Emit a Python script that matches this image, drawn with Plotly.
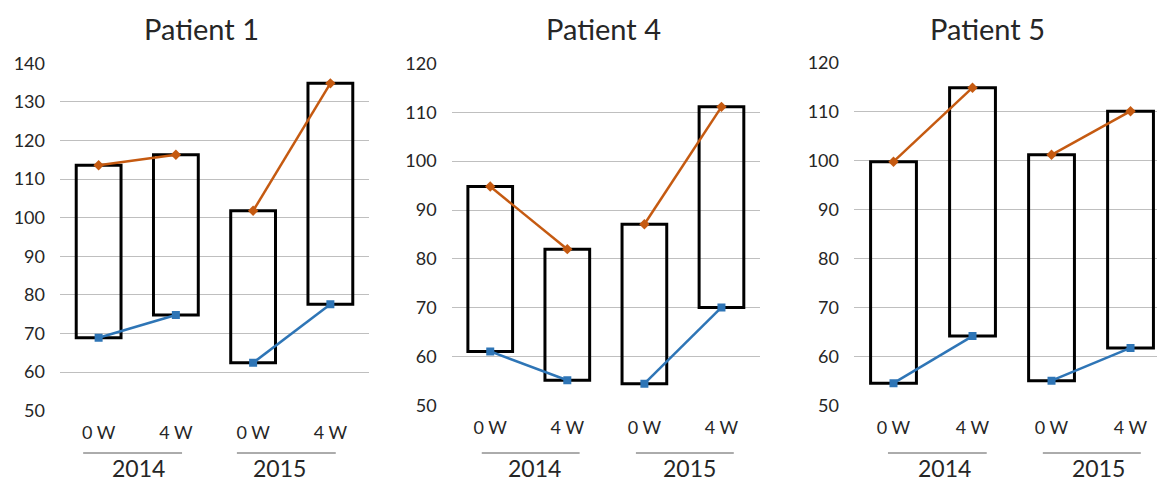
import plotly.graph_objects as go

# Visit labels within each year
visits = ["0 W", "4 W", "0 W", "4 W"]
years = ["2014", "2015"]

# Upper (orange) and lower (blue) readings per patient
p1_upper = [113.6, 116.3, 101.8, 134.8]
p1_lower = [68.9, 74.8, 62.4, 77.6]
p4_upper = [94.8, 82.0, 87.1, 111.1]
p4_lower = [61.1, 55.2, 54.5, 70.1]
p5_upper = [99.8, 114.9, 101.2, 110.1]
p5_lower = [54.6, 64.2, 55.1, 61.8]

W, H = 1157, 481
ORANGE = "#C55A11"
BLUE = "#2E75B6"
GRID = "#BFBFBF"
TEXT = "#262626"
FONT = "Lato"


def px_x(v):
    return v / W


def px_y(v):
    return (H - v) / H


panels = [
    dict(title="Patient 1", upper=p1_upper, lower=p1_lower,
         xdom=(60, 369), ydom=(410.7, 63.3), yrange=(50, 140),
         xrange=(-0.5, 3.5), title_x=201,
         group_lines=[(-0.2, 1.08), (1.79, 3.07)], year_x=[0.51, 2.34]),
    dict(title="Patient 4", upper=p4_upper, lower=p4_lower,
         xdom=(451.7, 760), ydom=(405.7, 63.3), yrange=(50, 120),
         xrange=(-0.5, 3.5), title_x=603,
         group_lines=[(-0.11, 1.16), (1.89, 3.16)], year_x=[0.58, 2.58]),
    dict(title="Patient 5", upper=p5_upper, lower=p5_lower,
         xdom=(854, 1157), ydom=(405.7, 62.7), yrange=(50, 120),
         xrange=(-0.5, 3.335), title_x=987,
         group_lines=[(-0.07, 1.18), (1.89, 3.13)], year_x=[0.64, 2.59]),
]

fig = go.Figure()
annotations = []
shapes = []
xs = list(range(len(visits)))

for i, p in enumerate(panels, start=1):
    xa = "x" if i == 1 else f"x{i}"
    ya = "y" if i == 1 else f"y{i}"

    # Floating boxes spanning lower -> upper reading
    fig.add_trace(go.Bar(
        x=xs,
        y=[u - l for u, l in zip(p["upper"], p["lower"])],
        base=p["lower"],
        width=0.58,
        marker=dict(color="rgba(255,255,255,0)",
                    line=dict(color="black", width=3)),
        xaxis=xa, yaxis=ya, showlegend=False, hoverinfo="skip",
    ))
    for seg in (slice(0, 2), slice(2, 4)):
        fig.add_trace(go.Scatter(
            x=xs[seg], y=p["upper"][seg], mode="lines+markers",
            line=dict(color=ORANGE, width=2.5),
            marker=dict(symbol="diamond", size=8, color=ORANGE),
            xaxis=xa, yaxis=ya, showlegend=False,
        ))
        fig.add_trace(go.Scatter(
            x=xs[seg], y=p["lower"][seg], mode="lines+markers",
            line=dict(color=BLUE, width=2.5),
            marker=dict(symbol="square", size=8, color=BLUE),
            xaxis=xa, yaxis=ya, showlegend=False,
        ))

    x0, x1 = p["xdom"]
    yb, yt = p["ydom"]
    fig.update_layout(**{
        ("xaxis" if i == 1 else f"xaxis{i}"): dict(
            domain=[px_x(x0), px_x(x1)], range=list(p["xrange"]),
            anchor=ya, tickvals=xs, ticktext=visits,
            showgrid=False, zeroline=False, showline=False, ticks="",
            ticklabelstandoff=9, automargin=False,
            tickfont=dict(family=FONT, size=18, color=TEXT),
            fixedrange=True,
        ),
        ("yaxis" if i == 1 else f"yaxis{i}"): dict(
            domain=[px_y(yb), px_y(yt)], range=list(p["yrange"]),
            anchor=xa, dtick=10, showgrid=True, gridcolor=GRID,
            gridwidth=1.3, zeroline=False, showline=False, ticks="",
            ticklabelstandoff=14, automargin=False,
            tickfont=dict(family=FONT, size=18, color=TEXT),
            fixedrange=True,
        ),
    })

    annotations.append(dict(
        text=p["title"], x=px_x(p["title_x"]), y=px_y(28),
        xref="paper", yref="paper", xanchor="center", yanchor="middle",
        showarrow=False, font=dict(family=FONT, size=29, color=TEXT),
    ))
    for (g0, g1), yr, yx in zip(p["group_lines"], years, p["year_x"]):
        shapes.append(dict(
            type="line", xref=xa, yref="paper", x0=g0, x1=g1,
            y0=px_y(453), y1=px_y(453),
            line=dict(color="#595959", width=1),
        ))
        annotations.append(dict(
            text=yr, x=yx, y=0, xref=xa, yref="paper",
            xanchor="center", yanchor="bottom", yshift=-3, showarrow=False,
            font=dict(family=FONT, size=23, color=TEXT),
        ))

fig.update_layout(
    width=W, height=H,
    margin=dict(l=0, r=0, t=0, b=0, autoexpand=False),
    paper_bgcolor="white", plot_bgcolor="white",
    barmode="overlay", showlegend=False,
    annotations=annotations, shapes=shapes,
)

fig.write_html("out.html", config={"displayModeBar": False})
